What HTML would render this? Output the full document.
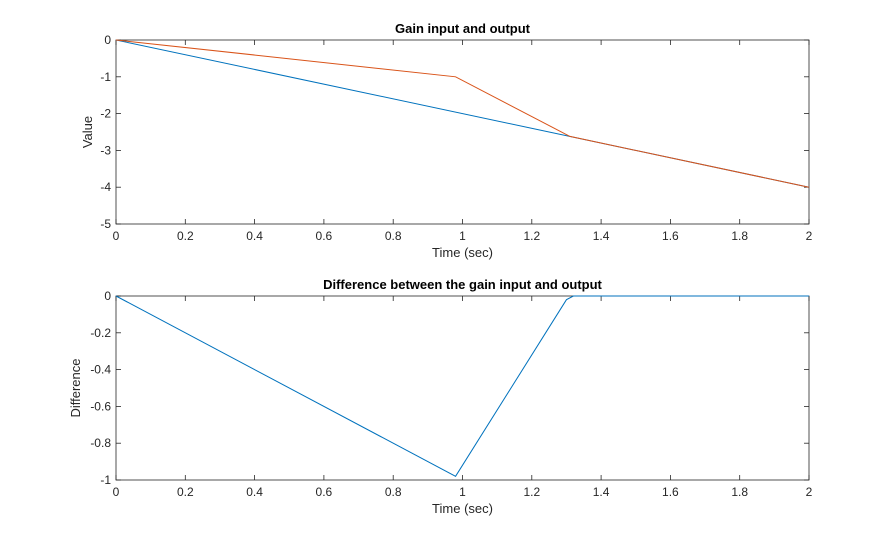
<!DOCTYPE html>
<html><head><meta charset="utf-8"><style>
body{margin:0;background:#fff;}
svg{display:block;font-family:"Liberation Sans",Arial,sans-serif;}
</style></head><body>
<svg id="fig" width="895" height="540"></svg>
<script>
const xTicks=[0,0.2,0.4,0.6,0.8,1,1.2,1.4,1.6,1.8,2];
const xTickLabels=["0","0.2","0.4","0.6","0.8","1","1.2","1.4","1.6","1.8","2"];
const topYTicks=[0,-1,-2,-3,-4,-5];
const topYTickLabels=["0","-1","-2","-3","-4","-5"];
const botYTicks=[0,-0.2,-0.4,-0.6,-0.8,-1];
const botYTickLabels=["0","-0.2","-0.4","-0.6","-0.8","-1"];
const inputTime=[0,2];
const inputValues=[0,-4];
const outputTime=[0,0.98,1.31,2];
const outputValues=[0,-1,-2.62,-4];
const diffTime=[0,0.98,1.3,1.32,2];
const diffValues=[0,-0.98,-0.02,0,0];

const NS="http://www.w3.org/2000/svg";
const svg=document.getElementById('fig');
function el(tag,attrs,parent){const e=document.createElementNS(NS,tag);for(const k in attrs)e.setAttribute(k,attrs[k]);(parent||svg).appendChild(e);return e;}

function axes(cfg){
  const {x0,x1,y0,y1,ymin,ymax,yTicks,yLabels,title,ylabel,name}=cfg;
  const g=el('g',{});
  
  
  const sx=v=>x0+(v-0)/(2-0)*(x1-x0);
  const sy=v=>y0+(ymax-v)/(ymax-ymin)*(y1-y0);
  el('rect',{x:x0,y:y0,width:x1-x0,height:y1-y0,fill:'#fff',stroke:'none'},g);
  xTicks.forEach((t,i)=>{
    const x=sx(t);
    el('line',{x1:x,x2:x,y1:y1,y2:y1-5,stroke:'#262626','stroke-width':0.8},g);
    el('line',{x1:x,x2:x,y1:y0,y2:y0+5,stroke:'#262626','stroke-width':0.8},g);
    const tx=el('text',{x:x,y:y1+16,'text-anchor':'middle','font-size':12,fill:'#262626'},g);
    tx.textContent=xTickLabels[i];
    
    
  });
  yTicks.forEach((t,i)=>{
    const y=sy(t);
    el('line',{x1:x0,x2:x0+5,y1:y,y2:y,stroke:'#262626','stroke-width':0.8},g);
    el('line',{x1:x1,x2:x1-5,y1:y,y2:y,stroke:'#262626','stroke-width':0.8},g);
    const tx=el('text',{x:x0-5,y:y+4,'text-anchor':'end','font-size':12,fill:'#262626'},g);
    tx.textContent=yLabels[i];
    
    
  });
  el('rect',{x:x0,y:y0,width:x1-x0,height:y1-y0,fill:'none',stroke:'#262626','stroke-width':0.8},g);
  const tt=el('text',{x:(x0+x1)/2,y:y0-7,'text-anchor':'middle','font-size':13,'font-weight':'bold',fill:'#000'},g);
  tt.textContent=title;
  
  
  const xl=el('text',{x:(x0+x1)/2,y:y1+33,'text-anchor':'middle','font-size':13,fill:'#262626'},g);
  xl.textContent='Time (sec)';
  
  
  const yx=cfg.ylabelX, yy=(y0+y1)/2;
  const yl=el('text',{x:yx,y:yy,'text-anchor':'middle','font-size':13,fill:'#262626',transform:`rotate(-90 ${yx} ${yy})`},g);
  yl.textContent=ylabel;
  
  
  return {g,sx,sy};
}
function line(ax,xs,ys,color,name){
  const p=el('polyline',{points:xs.map((x,i)=>ax.sx(x)+','+ax.sy(ys[i])).join(' '),fill:'none',stroke:color,'stroke-width':1},ax.g);
  
  
}
const a1=axes({x0:116,x1:809,y0:40,y1:224,ymin:-5,ymax:0,yTicks:topYTicks,yLabels:topYTickLabels,title:'Gain input and output',ylabel:'Value',ylabelX:92,name:'top-axes'});
line(a1,inputTime,inputValues,'#0072BD','input-line');
line(a1,outputTime,outputValues,'#D95319','output-line');
const a2=axes({x0:116,x1:809,y0:296,y1:480,ymin:-1,ymax:0,yTicks:botYTicks,yLabels:botYTickLabels,title:'Difference between the gain input and output',ylabel:'Difference',ylabelX:80,name:'bottom-axes'});
line(a2,diffTime,diffValues,'#0072BD','difference-line');
</script>
</body></html>
